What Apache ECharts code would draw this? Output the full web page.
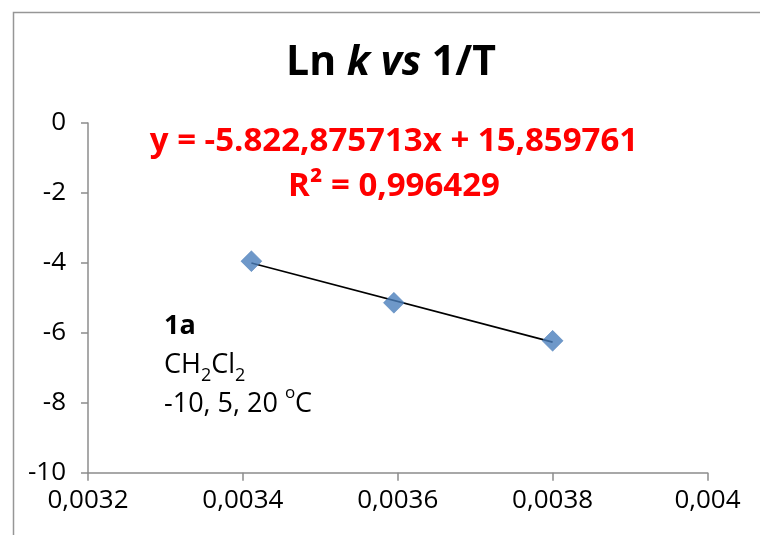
<!DOCTYPE html>
<html>
<head>
<meta charset="utf-8">
<script src="https://cdn.jsdelivr.net/npm/echarts@6/dist/echarts.min.js"></script>
<style>
  html, body { margin: 0; padding: 0; background: #fff; }
  #chart { width: 760px; height: 535px; }
</style>
</head>
<body>
<div id="chart"></div>
<script>
// ---- data ----
const invT = [0.003411, 0.003595, 0.003800];      // 1/T (K^-1)
const lnK = [-3.95, -5.14, -6.23];                  // ln k
const trendX = [0.003411, 0.003800];                // linear trendline ends
const trendY = [-4.003, -6.268];
const titleParts = ['Ln ', 'k', ' vs', ' 1/T'];
const equationText = 'y = -5.822,875713x + 15,859761';
const r2Text = 'R² = 0,996429';
const noteLines = ['1a', 'CH', '2', 'Cl', '2', '-10, 5, 20 ', 'o', 'C'];

const FONT = '"Open Sans", "Liberation Sans", sans-serif';
const chart = echarts.init(document.getElementById('chart'));

const fmtX = v => parseFloat(v.toPrecision(6)).toString().replace('.', ',');

chart.setOption({
  animation: false,
  backgroundColor: '#ffffff',
  textStyle: { fontFamily: FONT },
  grid: { left: 88, top: 123, right: 52.5, bottom: 62.3, containLabel: false },
  xAxis: {
    type: 'value', min: 0.0032, max: 0.004, interval: 0.0002,
    axisLine: { show: true, onZero: false, lineStyle: { color: '#8c8c8c', width: 1.5 } },
    axisTick: { show: true, inside: false, length: 8, lineStyle: { color: '#8c8c8c', width: 1.5 } },
    splitLine: { show: false },
    axisLabel: { color: '#000', fontSize: 26, fontFamily: FONT, margin: 15, formatter: fmtX }
  },
  yAxis: {
    type: 'value', min: -10, max: 0, interval: 2,
    axisLine: { show: true, onZero: false, lineStyle: { color: '#8c8c8c', width: 1.5 } },
    axisTick: { show: true, inside: false, length: 7, lineStyle: { color: '#8c8c8c', width: 1.5 } },
    splitLine: { show: false },
    axisLabel: { color: '#000', fontSize: 26, fontFamily: FONT, margin: 22 }
  },
  series: [
    {
      type: 'line', data: trendX.map((x, i) => [x, trendY[i]]),
      symbol: 'none', lineStyle: { color: '#000', width: 1.7 }, z: 2, silent: true
    },
    {
      type: 'scatter', data: invT.map((x, i) => [x, lnK[i]]),
      symbol: 'diamond', symbolSize: [21, 21],
      itemStyle: { color: '#4a7ebb', borderColor: '#4578b5', borderWidth: 0.5 }, z: 3
    }
  ],
  graphic: [
    {
      type: 'rect', left: 11, top: 10, silent: true,
      shape: { x: 0, y: 0, width: 760, height: 540 },
      style: { fill: 'none', stroke: '#969696', lineWidth: 1.5 }
    },
    {
      type: 'text', x: 391, y: 63, silent: true,
      style: {
        text: '{n|' + titleParts[0] + '}{i|' + titleParts[1] + '}{i|' + titleParts[2] + '}{n|' + titleParts[3] + '}',
        align: 'center', verticalAlign: 'middle',
        rich: {
          n: { fontFamily: FONT, fontSize: 41, fontWeight: 'bold', fill: '#000' },
          i: { fontFamily: FONT, fontSize: 41, fontWeight: 'bold', fontStyle: 'italic', fill: '#000' }
        }
      }
    },
    {
      type: 'text', x: 394, y: 142, silent: true,
      style: { text: equationText, align: 'center', verticalAlign: 'middle',
        fontFamily: FONT, fontSize: 33, fontWeight: 'bold', fill: '#ff0000' }
    },
    {
      type: 'text', x: 394, y: 187, silent: true,
      style: { text: r2Text, align: 'center', verticalAlign: 'middle',
        fontFamily: FONT, fontSize: 33, fontWeight: 'bold', fill: '#ff0000' }
    },
    {
      type: 'text', x: 164, y: 307, silent: true,
      style: {
        text: '{b|' + noteLines[0] + '}\n{n|' + noteLines[1] + '}{sub|' + noteLines[2] + '}{n|' + noteLines[3] + '}{sub|' + noteLines[4] + '}\n{n|' + noteLines[5] + '}{sup|' + noteLines[6] + '}{n|' + noteLines[7] + '}',
        align: 'left', verticalAlign: 'top',
        rich: {
          b: { fontFamily: FONT, fontSize: 27, fontWeight: 'bold', fill: '#000', lineHeight: 39 },
          n: { fontFamily: FONT, fontSize: 27, fill: '#000', lineHeight: 39 },
          sub: { fontFamily: FONT, fontSize: 18, fill: '#000', lineHeight: 27, verticalAlign: 'bottom' },
          sup: { fontFamily: FONT, fontSize: 17, fill: '#000', lineHeight: 28, verticalAlign: 'top' }
        }
      }
    }
  ]
});
</script>
</body>
</html>
